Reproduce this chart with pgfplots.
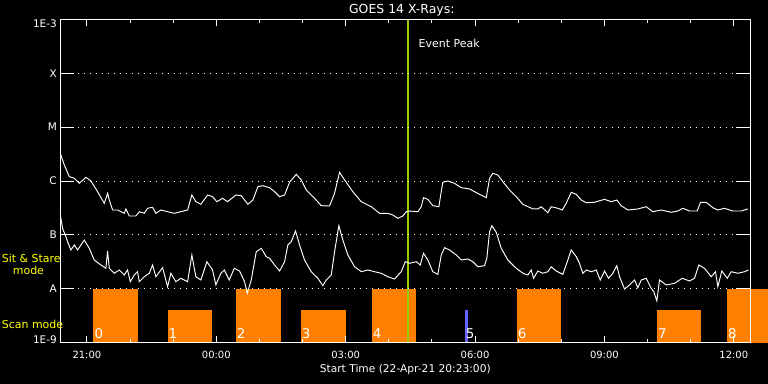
\documentclass[border=0pt]{standalone}
\usepackage{pgfplots}
\pgfplotsset{compat=1.18}
\usepackage{fontspec}
\setmainfont{DejaVu Sans}
\definecolor{barorange}{HTML}{FF8000}
\definecolor{peakgreen}{HTML}{99CC00}
\definecolor{scanblue}{HTML}{6464FF}
\definecolor{modeyellow}{HTML}{FFFF00}
\pagecolor{black}
\pgfplotstableread{
h L
-3.617 -5.486
-3.524 -5.703
-3.408 -5.920
-3.292 -5.950
-3.176 -6.043
-3.023 -5.931
-2.907 -6.000
-2.752 -6.198
-2.597 -6.414
-2.520 -6.228
-2.481 -6.353
-2.404 -6.538
-2.288 -6.538
-2.133 -6.599
-2.096 -6.519
-2.017 -6.649
-1.864 -6.649
-1.785 -6.570
-1.669 -6.599
-1.593 -6.506
-1.477 -6.488
-1.400 -6.599
-1.284 -6.538
-1.129 -6.570
-0.974 -6.599
-0.821 -6.570
-0.665 -6.538
-0.566 -6.260
-0.473 -6.384
-0.357 -6.432
-0.202 -6.260
-0.086 -6.291
0.014 -6.384
0.146 -6.321
0.262 -6.384
0.454 -6.260
0.580 -6.273
0.733 -6.432
0.849 -6.353
0.965 -6.106
1.080 -6.087
1.236 -6.124
1.352 -6.198
1.468 -6.291
1.584 -6.260
1.700 -6.024
1.855 -5.876
1.971 -5.981
2.087 -6.167
2.279 -6.321
2.434 -6.458
2.627 -6.464
2.743 -6.228
2.859 -5.839
2.975 -5.981
3.167 -6.198
3.362 -6.384
3.594 -6.477
3.786 -6.599
3.979 -6.599
4.095 -6.631
4.211 -6.692
4.326 -6.649
4.405 -6.570
4.482 -6.557
4.674 -6.570
4.753 -6.477
4.806 -6.310
4.906 -6.340
5.022 -6.458
5.161 -6.477
5.217 -6.198
5.254 -6.024
5.370 -6.000
5.525 -6.043
5.680 -6.124
5.873 -6.148
6.105 -6.247
6.260 -6.310
6.337 -5.950
6.413 -5.857
6.529 -5.889
6.645 -6.013
6.800 -6.167
6.956 -6.291
7.109 -6.432
7.341 -6.519
7.457 -6.519
7.535 -6.477
7.688 -6.588
7.767 -6.477
7.920 -6.506
8.022 -6.538
8.115 -6.414
8.231 -6.210
8.347 -6.247
8.463 -6.353
8.579 -6.403
8.771 -6.395
9.003 -6.340
9.158 -6.384
9.288 -6.353
9.390 -6.458
9.543 -6.538
9.775 -6.519
9.970 -6.477
10.123 -6.570
10.318 -6.538
10.550 -6.581
10.702 -6.557
10.818 -6.506
10.974 -6.557
11.152 -6.557
11.229 -6.395
11.361 -6.395
11.514 -6.495
11.630 -6.538
11.785 -6.506
11.978 -6.557
12.173 -6.557
12.326 -6.519
}\longchan
\pgfplotstableread{
h L
-3.617 -6.631
-3.564 -6.878
-3.487 -7.033
-3.448 -7.126
-3.371 -7.280
-3.292 -7.187
-3.216 -7.280
-3.060 -7.095
-2.945 -7.249
-2.829 -7.466
-2.676 -7.558
-2.560 -7.620
-2.520 -7.299
-2.481 -7.620
-2.365 -7.712
-2.249 -7.651
-2.133 -7.744
-2.057 -7.651
-1.994 -7.868
-1.901 -7.744
-1.825 -7.683
-1.785 -7.868
-1.669 -7.776
-1.553 -7.712
-1.477 -7.558
-1.400 -7.776
-1.245 -7.608
-1.129 -7.961
-1.053 -7.712
-0.937 -7.868
-0.821 -7.805
-0.665 -7.868
-0.566 -7.373
-0.473 -7.776
-0.357 -7.837
-0.218 -7.497
-0.086 -7.651
-0.009 -7.929
0.107 -7.712
0.185 -7.651
0.301 -7.837
0.417 -7.620
0.540 -7.670
0.656 -7.868
0.719 -8.083
0.811 -7.837
0.927 -7.312
1.043 -7.249
1.159 -7.404
1.236 -7.434
1.352 -7.558
1.468 -7.670
1.584 -7.497
1.660 -7.187
1.739 -7.126
1.839 -6.928
1.931 -7.187
2.047 -7.466
2.203 -7.683
2.356 -7.805
2.472 -7.942
2.550 -7.837
2.666 -7.744
2.743 -7.312
2.843 -6.829
2.935 -7.095
3.051 -7.373
3.207 -7.590
3.362 -7.683
3.515 -7.651
3.670 -7.683
3.826 -7.712
3.979 -7.776
4.134 -7.818
4.289 -7.683
4.382 -7.497
4.482 -7.527
4.637 -7.497
4.730 -7.558
4.806 -7.341
4.906 -7.466
5.022 -7.683
5.138 -7.731
5.217 -7.373
5.293 -7.237
5.409 -7.280
5.565 -7.373
5.680 -7.466
5.834 -7.447
5.949 -7.497
6.065 -7.590
6.221 -7.571
6.274 -7.434
6.337 -6.941
6.390 -6.829
6.492 -6.952
6.608 -7.249
6.761 -7.466
6.956 -7.620
7.109 -7.712
7.225 -7.744
7.303 -7.651
7.357 -7.805
7.457 -7.670
7.573 -7.712
7.688 -7.683
7.767 -7.590
7.883 -7.670
8.036 -7.731
8.152 -7.466
8.231 -7.280
8.347 -7.404
8.423 -7.527
8.500 -7.712
8.579 -7.651
8.695 -7.683
8.811 -7.651
8.903 -7.837
9.003 -7.670
9.096 -7.805
9.196 -7.712
9.288 -7.571
9.351 -7.776
9.467 -8.004
9.583 -7.929
9.699 -7.837
9.775 -7.980
9.854 -7.837
9.970 -7.805
10.086 -7.991
10.146 -8.054
10.216 -8.226
10.278 -7.837
10.434 -7.929
10.626 -7.898
10.805 -7.805
10.974 -7.855
11.090 -7.805
11.190 -7.558
11.322 -7.620
11.477 -7.776
11.577 -7.683
11.630 -7.961
11.723 -7.670
11.848 -7.805
11.941 -7.683
12.094 -7.712
12.249 -7.683
12.342 -7.651
}\shortchan
\begin{document}
\begin{tikzpicture}
\path[use as bounding box] (0,0) rectangle (768bp,384bp);
\begin{axis}[
  at={(60.3bp,41.3bp)}, anchor=south west,
  scale only axis, width=690bp, height=323.4bp,
  xmin=-3.6167, xmax=12.3833, ymin=-9, ymax=-3,
  clip=false, axis on top,
  axis line style={white, line width=0.9bp},
  xtick={-3,0,3,6,9,12},
  xticklabels={21:00,00:00,03:00,06:00,09:00,12:00},
  minor xtick={-2,-1,1,2,4,5,7,8,10,11},
  ytick={-9,-8,-7,-6,-5,-4,-3},
  yticklabels={\smash{\raisebox{-0.8bp}{1E-9}},A,B,C,M,X,\smash{\raisebox{-7.8bp}{1E-3}}},
  tick align=inside, xtick pos=both, ytick pos=both,
  xtick style={white, line width=0.9bp, /pgfplots/major tick length=6.3bp, /pgfplots/minor tick length=4bp},
  ytick style={white, line width=0.9bp, /pgfplots/major tick length=14bp},
  xticklabel style={white, font=\fontsize{10}{12}\selectfont, anchor=base, yshift=-15.6bp},
  yticklabel style={white, font=\fontsize{10.5}{12}\selectfont, anchor=east},
  ymajorgrids,
  major grid style={white, line width=0.8bp, dash pattern=on 0.8bp off 5.2bp},
  title={GOES 14 X-Rays:},
  title style={white, font=\fontsize{12.5}{14}\selectfont, at={(axis description cs:0.5,1)}, anchor=base, xshift=-3.5bp},
  xlabel={Start Time (22-Apr-21 20:23:00)},
  xlabel style={white, font=\fontsize{10.7}{13}\selectfont, at={(axis description cs:0.5,0)}, anchor=base, yshift=-29.3bp},
]
% scan-mode bars
\addplot[fill=barorange, draw=none] coordinates {(-2.847,-9) (-2.847,-8) (-1.810,-8) (-1.810,-9)} -- cycle;
\addplot[fill=barorange, draw=none] coordinates {(-1.130,-9) (-1.130,-8.393) (-0.093,-8.393) (-0.093,-9)} -- cycle;
\addplot[fill=barorange, draw=none] coordinates {(0.448,-9) (0.448,-8) (1.492,-8) (1.492,-9)} -- cycle;
\addplot[fill=barorange, draw=none] coordinates {(1.956,-9) (1.956,-8.393) (3.000,-8.393) (3.000,-9)} -- cycle;
\addplot[fill=barorange, draw=none] coordinates {(3.603,-9) (3.603,-8) (4.640,-8) (4.640,-9)} -- cycle;
\addplot[fill=scanblue, draw=none] coordinates {(5.761,-9) (5.761,-8.393) (5.831,-8.393) (5.831,-9)} -- cycle;
\addplot[fill=barorange, draw=none] coordinates {(6.968,-9) (6.968,-8) (7.988,-8) (7.988,-9)} -- cycle;
\addplot[fill=barorange, draw=none] coordinates {(10.216,-9) (10.216,-8.393) (11.237,-8.393) (11.237,-9)} -- cycle;
\addplot[fill=barorange, draw=none] coordinates {(11.840,-9) (11.840,-8) (12.790,-8) (12.790,-9)} -- cycle;
% scan numbers
\node[white, anchor=base west, inner sep=0pt, font=\fontsize{13.5}{15}\selectfont, xshift=1bp, yshift=4.7bp] at (axis cs:-2.847,-9) {0};
\node[white, anchor=base west, inner sep=0pt, font=\fontsize{13.5}{15}\selectfont, xshift=1bp, yshift=4.7bp] at (axis cs:-1.130,-9) {1};
\node[white, anchor=base west, inner sep=0pt, font=\fontsize{13.5}{15}\selectfont, xshift=1bp, yshift=4.7bp] at (axis cs:0.448,-9) {2};
\node[white, anchor=base west, inner sep=0pt, font=\fontsize{13.5}{15}\selectfont, xshift=1bp, yshift=4.7bp] at (axis cs:1.956,-9) {3};
\node[white, anchor=base west, inner sep=0pt, font=\fontsize{13.5}{15}\selectfont, xshift=1bp, yshift=4.7bp] at (axis cs:3.603,-9) {4};
\node[white, anchor=base west, inner sep=0pt, font=\fontsize{13.5}{15}\selectfont, xshift=1bp, yshift=4.7bp] at (axis cs:5.761,-9) {5};
\node[white, anchor=base west, inner sep=0pt, font=\fontsize{13.5}{15}\selectfont, xshift=1bp, yshift=4.7bp] at (axis cs:6.968,-9) {6};
\node[white, anchor=base west, inner sep=0pt, font=\fontsize{13.5}{15}\selectfont, xshift=1bp, yshift=4.7bp] at (axis cs:10.216,-9) {7};
\node[white, anchor=base west, inner sep=0pt, font=\fontsize{13.5}{15}\selectfont, xshift=1bp, yshift=4.7bp] at (axis cs:11.840,-9) {8};
% event peak line
\addplot[peakgreen, line width=2.2bp] coordinates {(4.44,-9) (4.44,-3)};
\node[white, anchor=base west, inner sep=0pt, font=\fontsize{11}{13}\selectfont] at (axis cs:4.69,-3.519) {Event Peak};
% GOES curves
\addplot[white, line width=0.95bp] table[x=h, y=L] {\longchan};
\addplot[white, line width=0.95bp] table[x=h, y=L] {\shortchan};
\end{axis}
\node[modeyellow, anchor=base west, inner sep=0pt, font=\fontsize{11}{13}\selectfont] at (1.7bp,121bp) {Sit \& Stare};
\node[modeyellow, anchor=base west, inner sep=0pt, font=\fontsize{11}{13}\selectfont] at (12.7bp,109bp) {mode};
\node[modeyellow, anchor=base west, inner sep=0pt, font=\fontsize{11}{13}\selectfont] at (1.7bp,55.7bp) {Scan mode};
\end{tikzpicture}
\end{document}
